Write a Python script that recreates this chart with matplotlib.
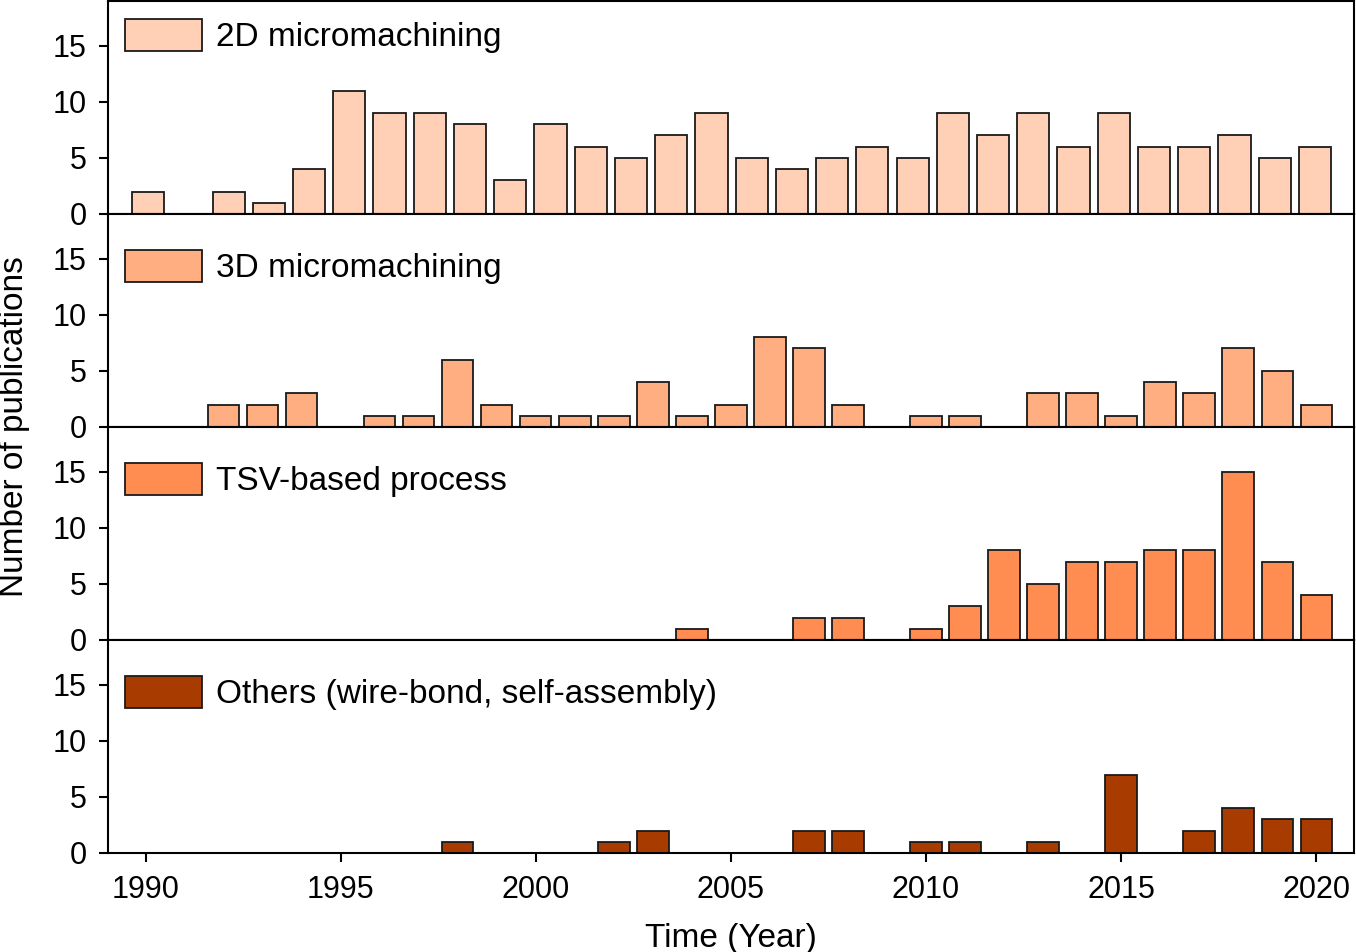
import numpy as np
import matplotlib
matplotlib.use("Agg")
import matplotlib.pyplot as plt

plt.rcParams['font.family'] = ['Liberation Sans', 'DejaVu Sans']
plt.rcParams['axes.linewidth'] = 1.5

# === DATA ===
# top panel is drawn on its own, slightly shifted, year axis
years_2d = [1991, 1993, 1994, 1995, 1996, 1997, 1998, 1999, 2000, 2001,
            2002, 2003, 2004, 2005, 2006, 2007, 2008, 2009, 2010, 2011,
            2012, 2013, 2014, 2015, 2016, 2017, 2018, 2019, 2020]
pubs_2d = [2, 2, 1, 4, 11, 9, 9, 8, 3, 8,
           6, 5, 7, 9, 5, 4, 5, 6, 5, 9,
           7, 9, 6, 9, 6, 6, 7, 5, 6]

years_3d = [1992, 1993, 1994, 1996, 1997, 1998, 1999, 2000, 2001, 2002,
            2003, 2004, 2005, 2006, 2007, 2008, 2010, 2011, 2013, 2014,
            2015, 2016, 2017, 2018, 2019, 2020]
pubs_3d = [2, 2, 3, 1, 1, 6, 2, 1, 1, 1,
           4, 1, 2, 8, 7, 2, 1, 1, 3, 3,
           1, 4, 3, 7, 5, 2]

years_tsv = [2004, 2007, 2008, 2010, 2011, 2012, 2013, 2014, 2015, 2016,
             2017, 2018, 2019, 2020]
pubs_tsv = [1, 2, 2, 1, 3, 8, 5, 7, 7, 8, 8, 15, 7, 4]

years_oth = [1998, 2002, 2003, 2007, 2008, 2010, 2011, 2013, 2015, 2017,
             2018, 2019, 2020]
pubs_oth = [1, 1, 2, 2, 2, 1, 1, 1, 7, 2, 4, 3, 3]

labels = ['2D micromachining', '3D micromachining', 'TSV-based process',
          'Others (wire-bond, self-assembly)']
colors = ['#FFCFB6', '#FFAE82', '#FF8D52', '#A83C00']
legend_y = [0.915, 0.83, 0.83, 0.83]

panels = [(years_2d, pubs_2d), (years_3d, pubs_3d),
          (years_tsv, pubs_tsv), (years_oth, pubs_oth)]

fig, axes = plt.subplots(4, 1, figsize=(13.56, 9.52), dpi=100)
fig.subplots_adjust(left=0.0796, right=0.9985, top=0.999, bottom=0.104, hspace=0)

for i, (ax, (yrs, vals)) in enumerate(zip(axes, panels)):
    ax.bar(yrs, vals, width=0.8, color=colors[i], edgecolor='#1a1a1a',
           linewidth=1.3, label=labels[i], zorder=2)
    ax.set_ylim(0, 19)
    ax.set_yticks([0, 5, 10, 15])
    if i == 0:
        ax.set_xlim(1990.0, 2020.97)
        ax.set_xticks([1995, 2000, 2005, 2010, 2015, 2020])
    else:
        ax.set_xlim(1989.03, 2020.97)
        ax.set_xticks([1990, 1995, 2000, 2005, 2010, 2015, 2020])
    ax.tick_params(direction='out', length=6.5, width=1.5, labelsize=22, pad=9)
    if i < 3:
        ax.tick_params(axis='x', labelbottom=False)
    leg = ax.legend(loc='upper left', bbox_to_anchor=(0.0136, legend_y[i]),
                    frameon=False, fontsize=24, handlelength=2.3,
                    handleheight=1.08, handletextpad=0.42,
                    borderaxespad=0, borderpad=0)
    leg.get_patches()[0].set_linewidth(1.3)

axes[-1].set_xlabel('Time (Year)', fontsize=24, labelpad=13)
fig.text(0.0105, 0.5515, 'Number of publications', rotation=90,
         fontsize=24, ha='center', va='center')

fig.savefig('out.png', dpi=100)
